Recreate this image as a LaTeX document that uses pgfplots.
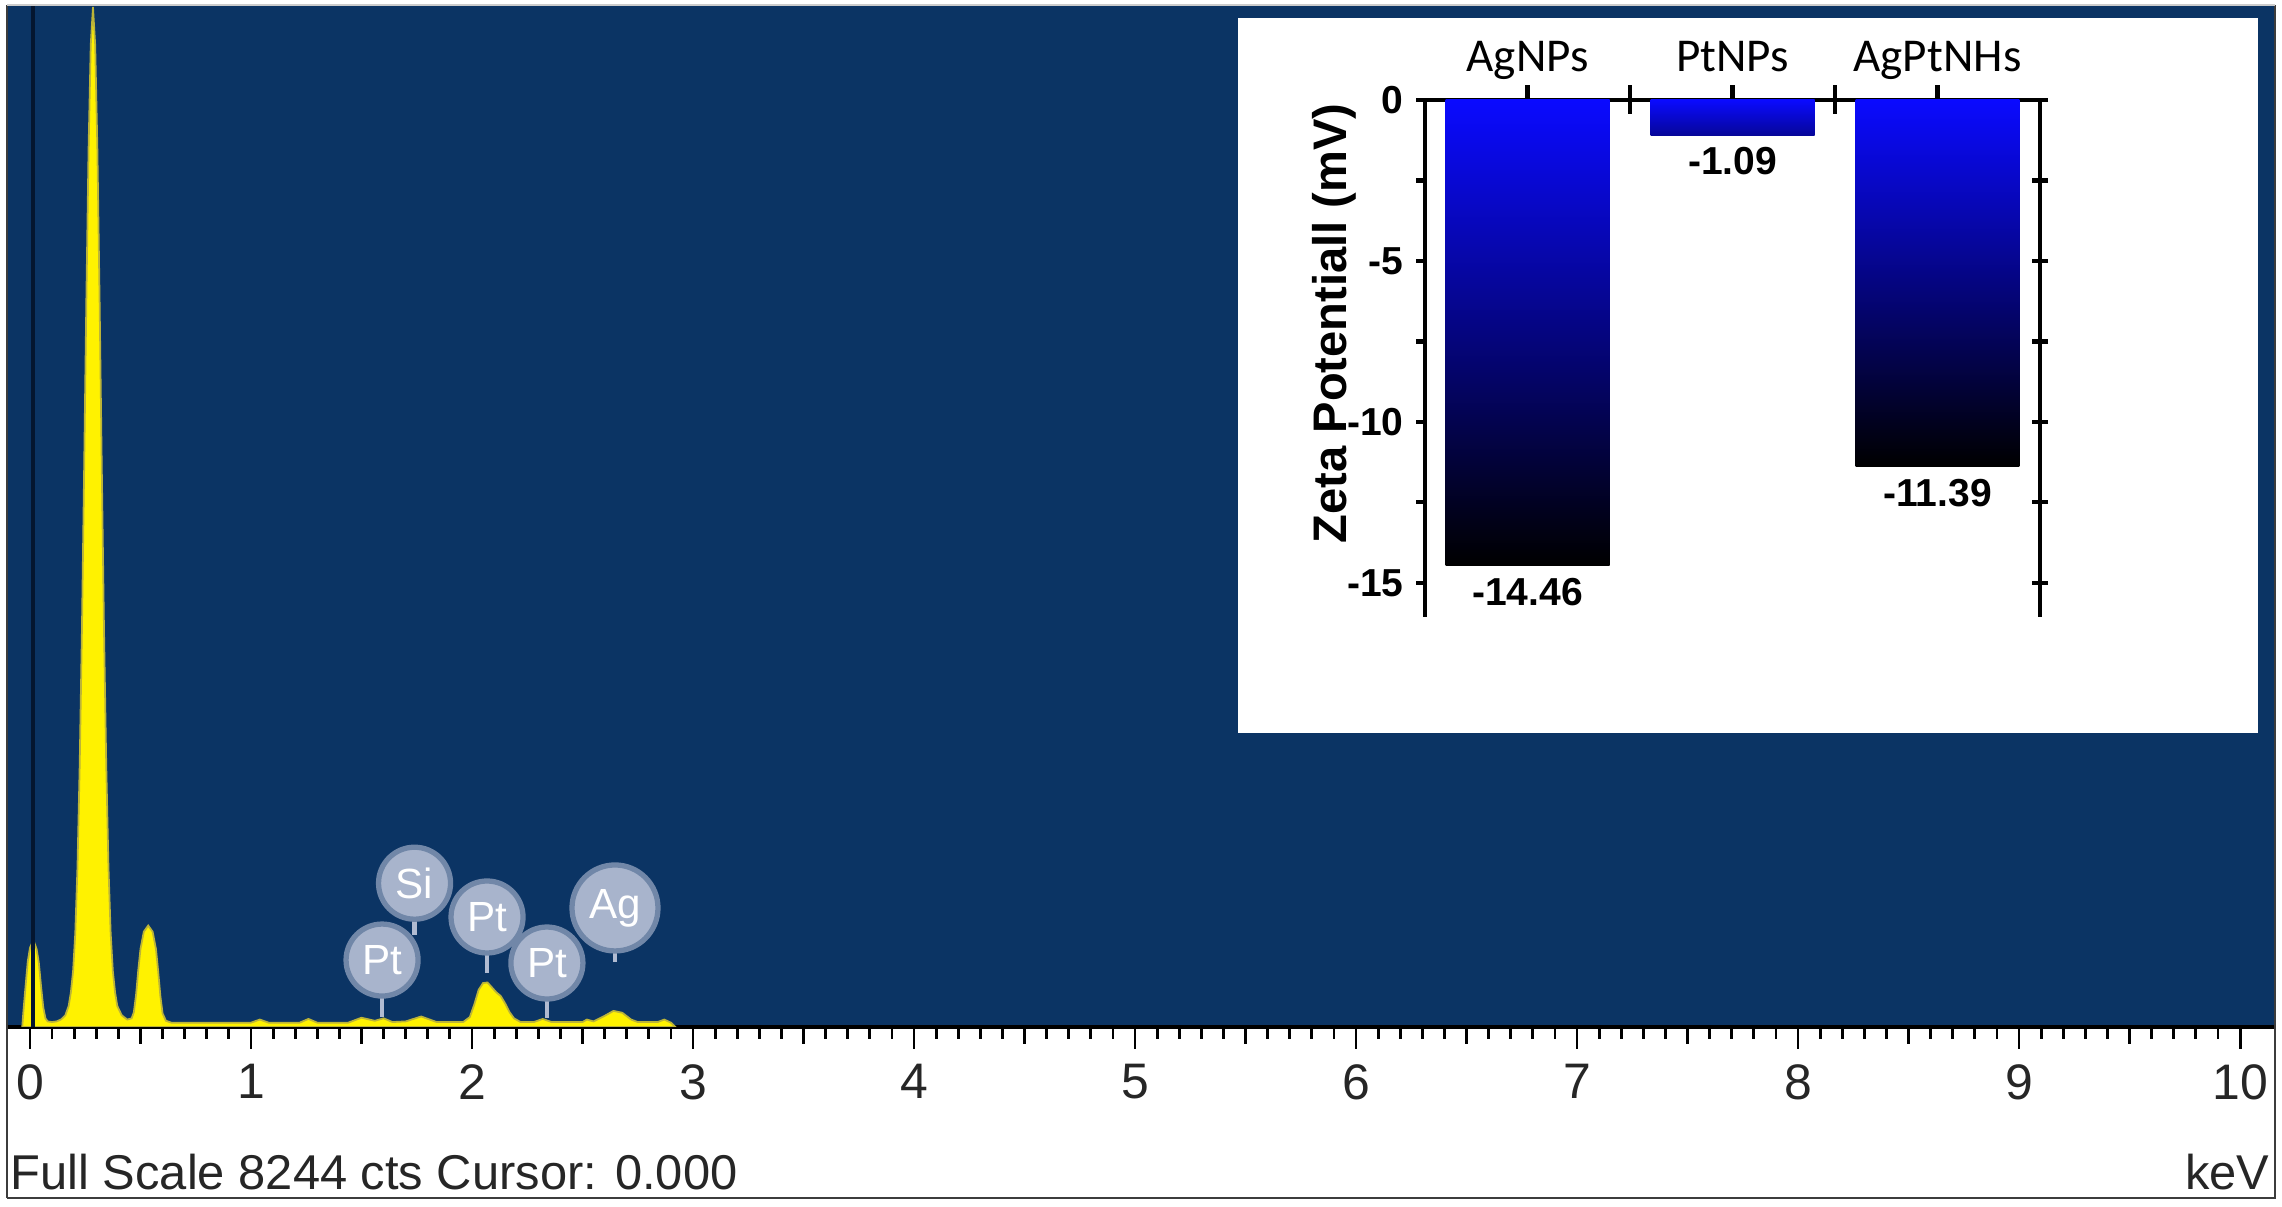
\documentclass[border=0pt]{standalone}
\usepackage{fontspec}
\setmainfont{Liberation Sans}
\newfontfamily\calibri{Carlito}
\usepackage{pgfplots}
\pgfplotsset{compat=1.18}
\definecolor{edsblue}{RGB}{11,52,100}
\definecolor{barblue}{RGB}{10,10,255}
\definecolor{elemgray}{RGB}{168,180,204}
\definecolor{cursorc}{RGB}{4,22,48}
\definecolor{framec}{RGB}{60,60,60}

\newcommand{\fs}[1]{\fontsize{#1}{1.2\dimexpr#1\relax}\selectfont}

\begin{document}
\begin{tikzpicture}
\path[use as bounding box, fill=white] (0,0) rectangle (22.82,12.07);

% EDS spectrum
\begin{axis}[
    at={(0.07cm,1.80cm)}, anchor=south west, scale only axis,
    width=22.68cm, height=10.22cm,
    xmin=-0.104, xmax=10.158, ymin=0, ymax=8260,
    axis x line*=bottom, axis y line=none,
    x axis line style={-, black, line width=0.9pt},
    axis background/.style={fill=edsblue},
    xtick={0,1,...,10}, minor x tick num=9,
    extra x ticks={0.5,1.5,...,9.5}, extra x tick labels={},
    extra x tick style={major tick length=0.17cm},
    tick align=outside, major tick length=0.22cm, minor tick length=0.12cm,
    tick style={black, line width=0.8pt},
    ytick=\empty,
    xticklabel style={font=\fs{14.2pt}, text=black!85, yshift=-0.03cm},
    /pgf/number format/assume math mode=true,
]
\addplot[fill=yellow, draw=yellow!70!black, line width=0.5pt] table {
x y
-0.035 0
-0.030 120
-0.020 330
-0.010 530
0.000 640
0.010 680
0.020 680
0.030 630
0.040 520
0.050 330
0.060 160
0.070 70
0.080 45
0.100 40
0.120 45
0.140 60
0.160 95
0.175 170
0.185 280
0.195 450
0.205 760
0.215 1300
0.225 2120
0.235 3200
0.245 4500
0.255 5870
0.265 7090
0.275 7940
0.285 8244
0.295 7940
0.305 7090
0.315 5870
0.325 4500
0.335 3200
0.345 2120
0.355 1300
0.365 760
0.375 450
0.385 280
0.395 170
0.415 95
0.440 60
0.460 70
0.470 120
0.480 260
0.490 460
0.500 630
0.515 770
0.535 820
0.555 770
0.570 630
0.580 450
0.590 250
0.600 110
0.615 50
0.640 35
1.00 35
1.04 60
1.08 35
1.22 35
1.26 65
1.30 35
1.44 35
1.50 75
1.56 50
1.60 70
1.64 40
1.70 45
1.77 85
1.84 40
1.96 40
1.99 80
2.01 180
2.03 300
2.05 355
2.07 360
2.09 320
2.11 280
2.13 250
2.15 190
2.17 120
2.19 70
2.22 40
2.28 40
2.32 65
2.36 40
2.50 40
2.52 60
2.55 45
2.60 90
2.64 130
2.68 115
2.72 60
2.75 40
2.84 40
2.87 60
2.90 35
2.92 0
} \closedcycle;
\addplot[cursorc, line width=1pt] coordinates {(0.014,0) (0.014,8260)};

% element markers
\begin{scope}[elemgray!90, line width=1.2pt]
\draw (axis cs:1.740,742) -- (axis cs:1.740,1162);
\draw (axis cs:1.593,81) -- (axis cs:1.593,541);
\draw (axis cs:2.068,436) -- (axis cs:2.068,889);
\draw (axis cs:2.339,73) -- (axis cs:2.339,517);
\draw (axis cs:2.647,525) -- (axis cs:2.647,962);
\end{scope}
\tikzset{elem/.style={circle, fill=elemgray, draw=elemgray!65!edsblue, line width=1.5pt,
    minimum size=0.72cm, inner sep=0pt, text=white, font=\fs{12pt}}}
\node[elem] at (axis cs:1.740,1162) {Si};
\node[elem] at (axis cs:1.593,541) {Pt};
\node[elem] at (axis cs:2.068,889) {Pt};
\node[elem] at (axis cs:2.339,517) {Pt};
\node[elem, minimum size=0.86cm] at (axis cs:2.647,962) {Ag};
\end{axis}

\draw[framec, line width=0.8pt] (0.07,0.09) -- (0.07,12.02);
\draw[framec, line width=0.8pt] (22.75,12.02) -- (22.75,0.09) -- (0.07,0.09);
\draw[black!20, line width=0.6pt] (0.07,12.02) -- (22.75,12.02);
\node[anchor=base west, inner sep=0pt, font=\fs{13.9pt}, text=black!85] at (0.10,0.17) {Full Scale 8244 cts Cursor: 0.000};
\node[anchor=base east, inner sep=0pt, font=\fs{13.9pt}, text=black!85] at (22.70,0.17) {keV};

% inset
\fill[white] (12.38,11.89) rectangle (22.58,4.74);

\pgfplotsset{inset/.style={
    at={(14.25cm,5.90cm)}, anchor=south west, scale only axis,
    width=6.15cm, height=5.17cm,
    xmin=-0.5, xmax=2.5, ymin=-16.06, ymax=0,
    axis line style={-, black, line width=1.4pt},
    tick style={black, line width=1.2pt},
    /pgf/number format/assume math mode=true,
}}

\begin{axis}[inset,
    axis x line*=top, axis y line=none,
    xtick={0,1,2}, xticklabels={AgNPs,PtNPs,AgPtNHs},
    extra x ticks={0.5,1.5}, extra x tick labels={},
    tick align=center, major tick length=0.29cm,
    ytick=\empty,
    xticklabel style={font=\calibri\fs{13.4pt}, text depth=0.22em, yshift=-0.06cm},
]
\addplot[ybar, bar width=0.8, bar shift=0pt, draw=none, top color=barblue, bottom color=black,
    nodes near coords, every node near coord/.append style={anchor=north, font=\bfseries\fs{11.1pt}}]
    coordinates {(0,-14.46)};
\addplot[ybar, bar width=0.8, bar shift=0pt, draw=none, top color=barblue, bottom color=barblue!60!black,
    nodes near coords, every node near coord/.append style={anchor=north, font=\bfseries\fs{11.1pt}}]
    coordinates {(1,-1.09)};
\addplot[ybar, bar width=0.8, bar shift=0pt, draw=none, top color=barblue, bottom color=black,
    nodes near coords, every node near coord/.append style={anchor=north, font=\bfseries\fs{11.1pt}}]
    coordinates {(2,-11.39)};
\end{axis}

\begin{axis}[inset,
    axis x line=none, axis y line*=left,
    xtick=\empty,
    ytick={0,-5,-10,-15}, minor ytick={-2.5,-7.5,-12.5},
    tick align=outside, major tick length=0.09cm, minor tick length=0.09cm,
    yticklabel style={font=\bfseries\fs{11.1pt}},
    ylabel={Zeta Potentiall (mV)},
    ylabel shift=-0.33cm,
    ylabel style={font=\bfseries\fs{13.4pt}, at={(ticklabel cs:0.568)}},
]
\end{axis}

\begin{axis}[inset,
    axis x line=none, axis y line*=right,
    xtick=\empty,
    ytick={0,-2.5,...,-15}, yticklabels={},
    tick align=center, major tick length=0.16cm,
]
\end{axis}
\end{tikzpicture}
\end{document}
